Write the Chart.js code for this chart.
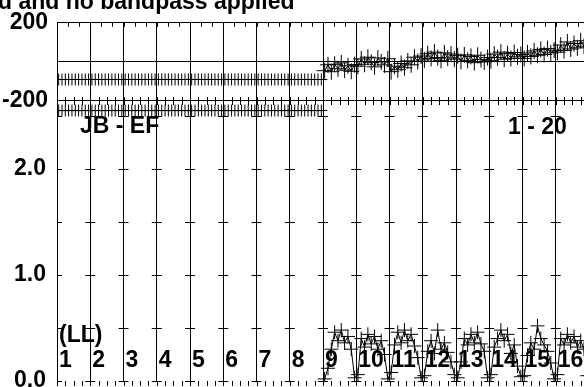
<!DOCTYPE html>
<html>
<head>
<meta charset="utf-8">
<script src="https://cdn.jsdelivr.net/npm/chart.js@4.4.0/dist/chart.umd.min.js"></script>
<style>
  html, body { margin: 0; padding: 0; background: #fff; overflow: hidden; width: 584px; height: 387px; }
  canvas { position: absolute; left: 0; top: 0; }
</style>
</head>
<body>
<canvas id="phaseChart" width="600" height="440"></canvas>
<canvas id="ampChart" width="600" height="440"></canvas>
<script>
  // --- data: 16 IFs x 10 channels ---
  const CHANNELS_PER_IF = 10;
  const FIRST_GROUP_IFS = 8; // IFs 1-8 and 9-16 are drawn as separate runs
  const ifLabels = ['1', '2', '3', '4', '5', '6', '7', '8', '9', '10', '11', '12', '13', '14', '15', '16'];
  const titleText = 'd and no bandpass applied';
  const baselineLabel = 'JB - EF';
  const timeLabel = '1 - 20';
  const stokesLabel = '(LL)';
  const ampCrossTicks = [0, 0.5, 1.0, 1.5, 2.0, 2.5];

  // phase in degrees, one row per IF
  const phaseDeg = [
    -90, -90, -90, -90, -90, -90, -90, -90, -90, -90,
    -90, -90, -90, -90, -90, -90, -90, -90, -90, -90,
    -90, -90, -90, -90, -90, -90, -90, -90, -90, -90,
    -90, -90, -90, -90, -90, -90, -90, -90, -90, -90,
    -90, -90, -90, -90, -90, -90, -90, -90, -90, -90,
    -90, -90, -90, -90, -90, -90, -90, -90, -90, -90,
    -90, -90, -90, -90, -90, -90, -90, -90, -90, -90,
    -90, -90, -90, -90, -90, -90, -90, -90, -90, -90,
    -45, -15, -50, -12, -35, -5, -42, -20, -48, -14,
    -22, 15, -12, 24, -2, -25, 20, 0, -15, 16,
    -50, -22, -40, -8, -30, 5, -15, 24, 2, 30,
    10, 42, 18, 50, 22, 8, 46, 20, 40, 14,
    32, 2, 36, 8, 28, -4, 34, 12, 0, 22,
    6, 40, 22, 50, 14, 42, 18, 48, 26, 38,
    18, 46, 28, 56, 34, 64, 38, 68, 46, 60,
    50, 86, 58, 102, 66, 94, 72, 108, 80, 96,
  ];

  // amplitude, one row per IF
  const ampJy = [
    2.55, 2.55, 2.55, 2.55, 2.55, 2.55, 2.55, 2.55, 2.55, 2.55,
    2.55, 2.55, 2.55, 2.55, 2.55, 2.55, 2.55, 2.55, 2.55, 2.55,
    2.55, 2.55, 2.55, 2.55, 2.55, 2.55, 2.55, 2.55, 2.55, 2.55,
    2.55, 2.55, 2.55, 2.55, 2.55, 2.55, 2.55, 2.55, 2.55, 2.55,
    2.55, 2.55, 2.55, 2.55, 2.55, 2.55, 2.55, 2.55, 2.55, 2.55,
    2.55, 2.55, 2.55, 2.55, 2.55, 2.55, 2.55, 2.55, 2.55, 2.55,
    2.55, 2.55, 2.55, 2.55, 2.55, 2.55, 2.55, 2.55, 2.55, 2.55,
    2.55, 2.55, 2.55, 2.55, 2.55, 2.55, 2.55, 2.55, 2.55, 2.55,
    0.02, 0.12, 0.30, 0.46, 0.38, 0.48, 0.36, 0.42, 0.30, 0.03,
    0.06, 0.40, 0.32, 0.44, 0.35, 0.42, 0.30, 0.38, 0.25, 0.02,
    0.08, 0.34, 0.46, 0.36, 0.48, 0.38, 0.44, 0.33, 0.22, 0.03,
    0.05, 0.28, 0.38, 0.26, 0.48, 0.30, 0.36, 0.27, 0.18, 0.06,
    0.03, 0.18, 0.40, 0.34, 0.44, 0.36, 0.46, 0.35, 0.28, 0.03,
    0.06, 0.32, 0.40, 0.48, 0.38, 0.44, 0.26, 0.34, 0.14, 0.04,
    0.05, 0.24, 0.36, 0.30, 0.52, 0.40, 0.34, 0.28, 0.17, 0.02,
    0.06, 0.40, 0.34, 0.44, 0.36, 0.42, 0.32, 0.38, 0.30, 0.05,
  ];

  const AREA_LEFT = 57;
  const AREA_RIGHT = 589;
  const PHASE_TOP = 20;
  const PANEL_SPLIT = 101;
  const AMP_BOTTOM = 381;
  const CANVAS_W = 600;
  const CANVAS_H = 440;
  const FONT = { family: "'Liberation Sans', Arial, Helvetica, sans-serif", size: 23, weight: 'bold' };
  const FONT_CSS = "bold 23px 'Liberation Sans', Arial, Helvetica, sans-serif";

  function channelPoints(values) {
    return values.map((v, i) => ({ x: i + 0.5, y: v }));
  }

  // minor edge ticks, grid crosses and the text labels AIPS puts on the plot
  const possmDecor = {
    id: 'possmDecor',
    afterDraw(chart, args, opts) {
      const { ctx, chartArea: area } = chart;
      const x = chart.scales.x;
      const y = chart.scales[opts.yId];
      ctx.save();
      ctx.strokeStyle = '#000';
      ctx.lineWidth = 1;

      (opts.edgeTicks || []).forEach((edge) => {
        const y0 = edge.side === 'top' ? area.top : area.bottom;
        const n = ifLabels.length * edge.perIF;
        for (let k = 0; k < n; k++) {
          const px = Math.round(x.getPixelForValue((k * CHANNELS_PER_IF) / edge.perIF)) + 0.5;
          ctx.beginPath();
          ctx.moveTo(px, y0 + edge.from);
          ctx.lineTo(px, y0 + edge.to);
          ctx.stroke();
        }
      });

      if (opts.crosses) {
        ctx.save();
        ctx.beginPath();
        ctx.rect(area.left, area.top - 1, area.right - area.left, area.bottom - area.top + 2);
        ctx.clip();
        for (let b = 0; b <= ifLabels.length; b++) {
          const px = x.getPixelForValue(b * CHANNELS_PER_IF);
          opts.crosses.forEach((v) => {
            const py = Math.round(y.getPixelForValue(v)) + 0.5;
            ctx.beginPath();
            ctx.moveTo(px - 5, py);
            ctx.lineTo(px + 5, py);
            ctx.stroke();
          });
        }
        ctx.restore();
      }

      ctx.fillStyle = '#000';
      ctx.font = FONT_CSS;
      ctx.textBaseline = 'alphabetic';
      ctx.textAlign = 'left';
      if (opts.title) {
        ctx.fillText(titleText, -2, 9);
      }
      if (opts.labels) {
        ctx.fillText(baselineLabel, area.left + 23, area.top + 32);
        ctx.fillText(timeLabel, area.left + 451, area.top + 33);
        ctx.fillText(stokesLabel, area.left + 2, area.bottom - 39);
        ifLabels.forEach((lab, i) => {
          ctx.fillText(lab, x.getPixelForValue(i * CHANNELS_PER_IF) + 2, area.bottom - 14);
        });
      }
      ctx.restore();
    },
  };

  function xScale() {
    return {
      type: 'linear',
      min: 0,
      max: ifLabels.length * CHANNELS_PER_IF,
      ticks: { display: false, stepSize: CHANNELS_PER_IF },
      grid: { color: '#000', lineWidth: 1, drawTicks: false },
      border: { display: false },
      afterFit: (s) => { s.height = 0; },
    };
  }

  function seriesDataset(points, yId, radius) {
    return {
      data: points,
      yAxisID: yId,
      showLine: true,
      borderColor: '#000',
      borderWidth: 1,
      pointStyle: 'cross',
      pointRadius: radius,
      pointBorderColor: '#000',
      pointBorderWidth: 1,
      pointBackgroundColor: '#000',
      tension: 0,
    };
  }

  function splitDatasets(values, yId, radius) {
    const pts = channelPoints(values);
    const cut = FIRST_GROUP_IFS * CHANNELS_PER_IF;
    return [
      seriesDataset(pts.slice(0, cut), yId, 6),
      seriesDataset(pts.slice(cut), yId, radius),
    ];
  }

  new Chart(document.getElementById('phaseChart'), {
    type: 'scatter',
    data: { datasets: splitDatasets(phaseDeg, 'yp', 8) },
    options: {
      responsive: false,
      animation: false,
      layout: { padding: { top: PHASE_TOP, bottom: CANVAS_H - PANEL_SPLIT, left: 0, right: CANVAS_W - AREA_RIGHT } },
      scales: {
        x: xScale(),
        yp: {
          type: 'linear',
          position: 'left',
          min: -200,
          max: 200,
          afterFit: (s) => { s.width = AREA_LEFT; },
          ticks: {
            stepSize: 200,
            padding: 9,
            color: '#000',
            font: FONT,
            callback: (v) => (v === 0 ? '' : String(v)),
          },
          grid: { color: '#000', drawTicks: false },
          border: { color: '#000' },
        },
      },
      plugins: {
        legend: { display: false },
        tooltip: { enabled: false },
        possmDecor: {
          yId: 'yp',
          title: true,
          edgeTicks: [
            { side: 'top', perIF: 3, from: 0, to: 4 },
            { side: 'bottom', perIF: 4, from: -4, to: 0 },
          ],
        },
      },
    },
    plugins: [possmDecor],
  });

  new Chart(document.getElementById('ampChart'), {
    type: 'scatter',
    data: { datasets: splitDatasets(ampJy, 'ya', 7) },
    options: {
      responsive: false,
      animation: false,
      layout: { padding: { top: PANEL_SPLIT, bottom: CANVAS_H - AMP_BOTTOM, left: 0, right: CANVAS_W - AREA_RIGHT } },
      scales: {
        x: xScale(),
        ya: {
          type: 'linear',
          position: 'left',
          min: 0,
          max: 2.64,
          afterFit: (s) => { s.width = AREA_LEFT; },
          ticks: {
            stepSize: 0.5,
            padding: 11,
            color: '#000',
            font: FONT,
            callback: (v) => (Number.isInteger(v) ? v.toFixed(1) : ''),
          },
          grid: { drawOnChartArea: false, drawTicks: false },
          border: { color: '#000' },
        },
      },
      plugins: {
        legend: { display: false },
        tooltip: { enabled: false },
        possmDecor: {
          yId: 'ya',
          labels: true,
          crosses: ampCrossTicks,
          edgeTicks: [
            { side: 'top', perIF: 4, from: 0, to: 4 },
            { side: 'bottom', perIF: 4, from: 0, to: 5 },
          ],
        },
      },
    },
    plugins: [possmDecor],
  });
</script>
</body>
</html>
